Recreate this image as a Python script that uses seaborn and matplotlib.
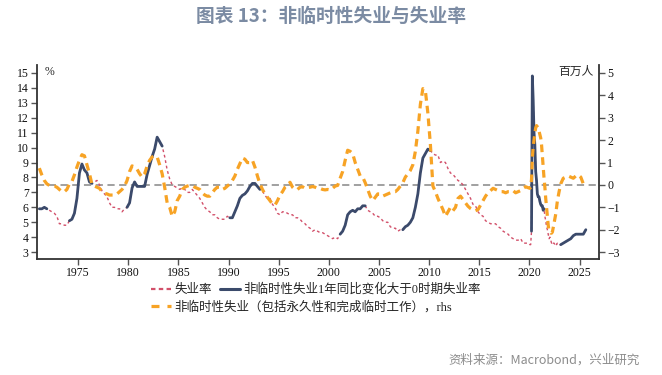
import numpy as np
import pandas as pd
import seaborn as sns
import matplotlib.pyplot as plt
from matplotlib.lines import Line2D

# 失业率 (%)，1971-2019 季度
rate_q_early = [
    5.9, 5.9, 6.0, 5.9,  5.8, 5.7, 5.6, 5.4,  4.9, 4.9, 4.8, 4.8,  5.1, 5.2, 5.6, 6.6,   # 1971-74
    8.3, 8.9, 8.5, 8.3,  7.7, 7.6, 7.7, 7.8,  7.5, 7.1, 6.9, 6.7,  6.3, 6.0, 6.0, 5.9,   # 1975-78
    5.9, 5.7, 5.9, 6.0,  6.3, 7.3, 7.7, 7.4,  7.4, 7.4, 7.4, 8.2,  8.8, 9.4, 9.9, 10.7,  # 1979-82
    10.4, 10.1, 9.4, 8.5,  7.9, 7.5, 7.4, 7.3,  7.2, 7.3, 7.2, 7.0,  7.0, 7.2, 7.0, 6.8, # 1983-86
    6.6, 6.3, 6.0, 5.8,  5.7, 5.5, 5.5, 5.3,  5.2, 5.2, 5.2, 5.4,  5.3, 5.3, 5.7, 6.1,   # 1987-90
    6.6, 6.8, 6.9, 7.1,  7.4, 7.6, 7.6, 7.4,  7.2, 7.1, 6.8, 6.6,  6.6, 6.2, 6.0, 5.6,   # 1991-94
    5.5, 5.7, 5.7, 5.6,  5.5, 5.5, 5.3, 5.3,  5.2, 5.0, 4.9, 4.7,  4.6, 4.4, 4.5, 4.4,   # 1995-98
    4.3, 4.3, 4.2, 4.1,  4.0, 3.9, 4.0, 3.9,  4.2, 4.4, 4.8, 5.5,  5.7, 5.8, 5.7, 5.9,   # 1999-02
    5.9, 6.1, 6.1, 5.8,  5.7, 5.6, 5.4, 5.4,  5.3, 5.1, 5.0, 5.0,  4.7, 4.6, 4.6, 4.4,   # 2003-06
    4.5, 4.5, 4.7, 4.8,  5.0, 5.3, 6.0, 6.9,  8.3, 9.3, 9.6, 9.9,  9.8, 9.6, 9.5, 9.5,   # 2007-10
    9.0, 9.1, 9.0, 8.6,  8.3, 8.2, 8.0, 7.8,  7.7, 7.5, 7.2, 6.9,  6.6, 6.2, 6.1, 5.7,   # 2011-14
    5.5, 5.4, 5.1, 5.0,  4.9, 4.9, 4.9, 4.7,  4.6, 4.4, 4.3, 4.2,  4.0, 3.9, 3.8, 3.8,   # 2015-18
    3.9, 3.6, 3.6, 3.6,                                                                  # 2019
]
# 非临时性失业同比变化 (百万人)，1971-2019 季度
nontemp_q_early = [
    0.75, 0.45, 0.2, 0.05,  -0.02, -0.05, -0.05, -0.1,  -0.2, -0.3, -0.3, -0.2,  0.05, 0.15, 0.45, 0.8,
    1.1, 1.35, 1.3, 0.9,  0.5, 0.03, -0.05, -0.1,  -0.15, -0.3, -0.37, -0.4,  -0.45, -0.45, -0.45, -0.4,
    -0.3, -0.2, -0.05, 0.2,  0.6, 0.85, 0.8, 0.7,  0.5, 0.35, 0.5, 0.85,  1.1, 1.25, 1.3, 1.25,
    0.9, 0.5, -0.1, -0.8,  -1.0, -1.4, -1.2, -0.7,  -0.5, -0.2, -0.1, -0.05,  -0.02, -0.03, -0.1, -0.15,
    -0.2, -0.35, -0.45, -0.5,  -0.5, -0.35, -0.2, -0.1,  -0.1, -0.2, -0.15, -0.05,  0.05, 0.2, 0.4, 0.7,
    0.95, 1.2, 1.15, 1.0,  1.0, 1.1, 0.8, 0.4,  0.05, -0.2, -0.4, -0.55,  -0.7, -0.85, -0.9, -0.7,
    -0.45, -0.3, -0.1, -0.02,  0.12, -0.1, -0.2, -0.2,  -0.1, -0.08, -0.15, -0.12,  -0.1, -0.07, -0.1, -0.15,
    -0.15, -0.2, -0.22, -0.2,  -0.22, -0.15, -0.05, -0.02,  0.3, 0.6, 1.1, 1.55,  1.5, 1.4, 1.0, 0.7,
    0.4, 0.35, 0.1, -0.2,  -0.5, -0.7, -0.55, -0.4,  -0.4, -0.5, -0.45, -0.4,  -0.35, -0.3, -0.3, -0.2,
    -0.05, 0.1, 0.35, 0.5,  0.65, 0.9, 1.5, 2.4,  3.6, 4.3, 4.2, 3.2,  1.8, -0.05, -0.3, -0.6,
    -0.85, -1.1, -1.4, -1.2,  -1.0, -1.15, -1.0, -0.6,  -0.5, -0.65, -0.8, -0.95,  -1.05, -1.12, -1.15, -1.1,
    -0.9, -0.7, -0.5, -0.35,  -0.25, -0.15, -0.2, -0.25,  -0.3, -0.3, -0.35, -0.3,  -0.3, -0.25, -0.35, -0.3,
    -0.25, -0.15, -0.08, -0.12,
]
# 2020-2022 月度
rate_m = [
    3.5, 3.5, 4.4, 14.8, 13.2, 11.0, 10.2, 8.4, 7.8, 6.9, 6.7, 6.7,
    6.4, 6.2, 6.1, 6.1, 5.8, 5.9, 5.4, 5.1, 4.7, 4.5, 4.2, 3.9,
    4.0, 3.8, 3.6, 3.7, 3.6, 3.6, 3.5, 3.6, 3.5, 3.6, 3.6, 3.5,
]
nontemp_m = [
    -0.15, -0.1, 0.25, 1.2, 1.7, 2.0, 2.3, 2.55, 2.65, 2.6, 2.5, 2.4,
    2.25, 2.1, 1.8, 1.3, 0.8, 0.3, -0.1, -0.6, -1.0, -1.4, -1.8, -2.05,
    -2.1, -2.15, -2.15, -2.1, -1.9, -1.7, -1.5, -1.3, -1.0, -0.7, -0.5, -0.3,
]
# 2023-2025 季度
rate_q_late = [3.5, 3.6, 3.7, 3.8,  3.9, 4.1, 4.2, 4.2,  4.2, 4.2, 4.5]
nontemp_q_late = [0.05, 0.3, 0.35, 0.4,  0.35, 0.3, 0.4, 0.45,  0.35, 0.05, 0.08]

year_ticks = list(range(1975, 2030, 5))
left_ticks = list(range(3, 16))
right_ticks = list(range(-3, 6))

PINK = "#d2506a"
NAVY = "#3b4a6b"
ORANGE = "#f7a325"

t_early = [y + (q + 0.5) / 4 for y in range(1971, 2020) for q in range(4)]
t_mid = [y + (m + 0.5) / 12 for y in range(2020, 2023) for m in range(12)]
t_late = [y + (q + 0.5) / 4 for y in range(2023, 2026) for q in range(4)][:len(rate_q_late)]

df = pd.DataFrame({
    "t": t_early + t_mid + t_late,
    "rate": rate_q_early + rate_m + rate_q_late,
    "nontemp": nontemp_q_early + nontemp_m + nontemp_q_late,
})
# 蓝线：非临时性失业同比为正的时期
df["pos"] = df["nontemp"] > 0
df["seg"] = (df["pos"] != df["pos"].shift()).cumsum()

sns.set_style("ticks")
plt.rcParams["font.family"] = ["Liberation Serif", "Noto Sans CJK SC", "DejaVu Sans"]
cjk_sans = ["Noto Sans CJK SC", "DejaVu Sans"]

fig = plt.figure(figsize=(6.62, 3.75), dpi=100)
ax = fig.add_axes([0.056, 0.309, 0.849, 0.518])
ax2 = ax.twinx()

ax.axhline(7.5, color="#999999", lw=1.3, ls=(0, (4, 2.5)), zorder=1)
sns.lineplot(data=df, x="t", y="rate", ax=ax, color=PINK, lw=1.0,
             linestyle=(0, (2, 2)), zorder=2)
sns.lineplot(data=df[df["pos"]], x="t", y="rate", units="seg", estimator=None,
             ax=ax, color=NAVY, lw=2.0, zorder=3)
sns.lineplot(data=df, x="t", y="nontemp", ax=ax2, color=ORANGE, lw=2.3,
             linestyle=(0, (2.4, 1.6)))

ax.set_xlim(1970.9, 2026.95)
ax.set_ylim(2.53, 15.54)
ax2.set_ylim(-3.31, 5.36)
ax.set_xticks(year_ticks)
ax.set_yticks(left_ticks)
ax2.set_yticks(right_ticks)
ax.set_xlabel("")
ax.set_ylabel("")
ax2.set_ylabel("")

for a in (ax, ax2):
    for s in a.spines.values():
        s.set_visible(False)
    a.tick_params(direction="out", length=4, width=1, color="#555555",
                  labelsize=8.5, labelcolor="#111111", pad=2)
for s in ("left", "bottom"):
    ax.spines[s].set_visible(True)
    ax.spines[s].set_color("#333333")
    ax.spines[s].set_linewidth(1.3)
ax2.spines["right"].set_visible(True)
ax2.spines["right"].set_color("#333333")
ax2.spines["right"].set_linewidth(1.3)

ax.text(0.014, 0.964, "%", transform=ax.transAxes, ha="left", va="center", fontsize=8.5)
ax2.text(0.99, 0.964, "百万人", transform=ax.transAxes, ha="right", va="center",
         fontsize=8.5, family=cjk_sans)

fig.text(0.5, 0.957, "图表 13：非临时性失业与失业率", ha="center", va="center",
         fontsize=13.5, weight="bold", color="#7b8ba3", family=cjk_sans)
fig.text(0.967, 0.04, "资料来源：Macrobond，兴业研究", ha="right", va="center",
         fontsize=9, color="#8c8c8c", family=cjk_sans)

h_pink = Line2D([], [], color=PINK, lw=1.6, ls=(0, (2, 1.5)))
h_navy = Line2D([], [], color=NAVY, lw=2.2)
h_orange = Line2D([], [], color=ORANGE, lw=2.3, ls=(0, (2.5, 2.5)))
leg_kw = dict(frameon=False, fontsize=9, handlelength=1.6, handletextpad=0.3,
              columnspacing=0.6, borderpad=0, borderaxespad=0, loc="center left")
fig.legend([h_pink, h_navy], ["失业率", "非临时性失业1年同比变化大于0时期失业率"],
           ncol=2, bbox_to_anchor=(0.228, 0.227), **leg_kw)
fig.legend([h_orange], ["非临时性失业（包括永久性和完成临时工作），rhs"],
           bbox_to_anchor=(0.228, 0.181), **leg_kw)

fig.savefig("out.png", dpi=100)
